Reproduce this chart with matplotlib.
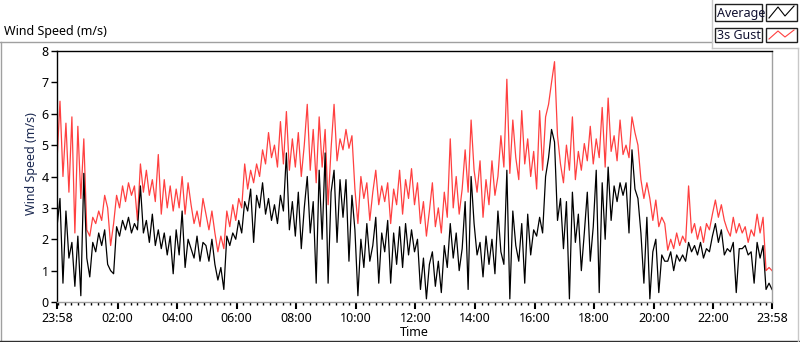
import numpy as np
import matplotlib
matplotlib.use("Agg")
import matplotlib.pyplot as plt
from matplotlib.lines import Line2D
from matplotlib.patches import Rectangle

plt.rcParams['font.family'] = ['Noto Sans', 'DejaVu Sans']

# one sample every 6 minutes, starting 23:58
step_min = 6

gust = [
    4.5, 6.4, 4.0, 5.7, 3.5, 5.9, 2.2, 5.6, 3.3, 5.2,
    2.3, 2.1, 2.7, 2.5, 2.9, 2.6, 3.4, 3.0, 1.8, 2.5,
    3.4, 3.0, 3.7, 3.2, 3.8, 3.4, 3.7, 2.6, 4.4, 3.5,
    4.2, 3.4, 3.9, 3.2, 4.7, 2.8, 3.9, 3.0, 3.7, 2.9,
    3.6, 3.0, 4.0, 2.8, 3.8, 3.1, 2.5, 2.9, 2.4, 3.3,
    2.8, 2.3, 2.9, 2.2, 1.6, 2.1, 1.7, 2.9, 2.4, 3.1,
    2.6, 3.3, 3.0, 4.4, 3.6, 4.2, 3.8, 4.4, 4.0, 4.85,
    4.4, 5.4, 4.6, 5.0, 4.3, 5.75, 4.4, 6.07, 4.2, 5.2,
    4.3, 5.4, 4.0, 5.0, 6.3, 4.2, 5.5, 3.8, 5.9, 4.3,
    5.5, 3.1, 4.9, 6.3, 4.5, 5.2, 4.85, 5.5, 4.9, 5.3,
    3.6, 2.5, 4.0, 3.3, 3.8, 2.6, 3.5, 4.2, 3.1, 3.7,
    3.2, 3.8, 2.5, 3.6, 3.1, 4.2, 2.8, 3.9, 3.3, 4.25,
    3.1, 3.8, 2.5, 3.2, 2.1, 2.9, 3.8, 2.4, 3.0, 2.2,
    3.5, 2.7, 5.2, 3.0, 4.0, 2.8, 3.6, 4.85, 3.5, 5.8,
    4.2, 3.5, 4.5, 2.7, 3.9, 3.1, 4.5, 3.4, 4.0, 5.3,
    4.3, 7.1, 4.1, 5.8, 4.6, 3.9, 6.1, 4.4, 5.2, 4.0,
    4.8, 3.6, 6.1, 4.2, 5.9, 6.3, 7.0, 7.66, 5.3, 4.4,
    3.8, 5.0, 4.2, 5.9, 3.9, 4.8, 4.2, 5.05, 4.5, 5.6,
    4.4, 5.2, 4.6, 6.2, 4.3, 6.5, 4.8, 5.3, 4.5, 5.8,
    4.7, 5.0, 4.6, 5.9, 5.4, 5.0, 3.9, 3.3, 3.8, 3.3,
    2.6, 3.25, 2.4, 2.7, 2.5, 1.65, 2.0, 1.7, 2.2, 1.8,
    2.1, 1.9, 3.7, 2.2, 2.5, 2.0, 2.4, 1.9, 2.5, 2.3,
    2.8, 3.25, 2.7, 3.1, 2.6, 2.3, 2.1, 2.7, 2.2, 2.5,
    2.2, 2.4, 1.9, 2.3, 2.1, 2.8, 2.2, 2.7, 1.0, 1.1,
    1.0,
]

average = [
    2.4, 3.3, 0.6, 2.9, 1.4, 1.9, 0.5, 2.1, 0.2, 4.1,
    1.4, 0.8, 1.9, 1.6, 2.2, 1.8, 2.3, 1.2, 1.0, 0.9,
    2.4, 2.1, 2.6, 2.3, 2.7, 2.2, 2.5, 2.3, 3.7, 2.2,
    2.6, 1.9, 2.8, 1.8, 2.3, 1.7, 2.2, 1.5, 2.1, 0.9,
    2.3, 1.5, 2.9, 1.1, 2.0, 1.7, 1.4, 2.1, 1.3, 1.9,
    1.8, 1.3, 2.0, 1.2, 0.7, 1.1, 0.4, 2.1, 1.8, 2.2,
    2.0, 2.6, 2.2, 3.2, 2.9, 3.6, 1.9, 3.4, 3.0, 3.8,
    2.8, 3.3, 2.6, 3.1, 2.5, 3.4, 2.9, 4.75, 2.3, 3.2,
    2.1, 3.5, 1.7, 3.0, 4.0, 2.2, 3.2, 0.6, 4.2, 2.0,
    4.75, 0.6, 3.5, 4.2, 1.9, 3.9, 2.7, 3.9, 1.3, 3.4,
    2.3, 0.2, 2.0, 1.1, 2.5, 1.3, 1.8, 2.7, 0.6, 2.2,
    1.6, 2.6, 0.6, 2.2, 1.2, 2.4, 1.1, 2.5, 1.5, 2.3,
    1.6, 2.0, 0.4, 1.4, 0.1, 1.2, 1.6, 0.5, 1.3, 0.3,
    1.8, 1.1, 2.5, 1.4, 2.2, 1.0, 1.7, 3.2, 0.4, 4.0,
    2.5, 1.5, 1.9, 0.8, 2.1, 1.2, 2.0, 0.9, 2.9, 1.6,
    1.2, 4.2, 0.1, 2.9, 1.8, 1.3, 2.5, 0.6, 2.8, 1.5,
    2.3, 2.1, 2.7, 2.2, 4.0, 4.6, 5.5, 5.1, 2.6, 3.3,
    1.7, 3.2, 0.1, 3.5, 1.9, 2.8, 1.0, 2.2, 3.5, 1.3,
    2.4, 4.2, 0.3, 3.8, 2.0, 4.3, 2.6, 3.7, 3.2, 3.8,
    3.4, 3.8, 2.2, 4.85, 3.6, 3.3, 2.2, 0.6, 2.7, 0.1,
    1.6, 2.0, 0.3, 1.5, 1.3, 1.3, 1.6, 1.0, 1.5, 1.3,
    1.5, 1.3, 1.9, 1.6, 1.8, 1.5, 1.9, 1.4, 1.7, 1.6,
    2.1, 2.5, 1.9, 2.3, 1.5, 1.7, 1.6, 1.9, 0.3, 1.7,
    1.7, 1.8, 1.5, 1.6, 0.6, 1.9, 1.4, 1.8, 0.4, 0.6,
    0.4,
]

tick_labels = ['23:58', '02:00', '04:00', '06:00', '08:00', '10:00', '12:00',
               '14:00', '16:00', '18:00', '20:00', '22:00', '23:58']

W, H = 800, 342


def fx(x):
    return x / W


def fy(y):
    return 1 - y / H


minutes = np.arange(len(gust)) * step_min

fig = plt.figure(figsize=(8, 3.42), dpi=100)
ax = fig.add_axes([fx(57), fy(302), fx(772) - fx(57), fy(51) - fy(302)])

ax.plot(minutes, gust, color='#ff4040', lw=0.9)
ax.plot(minutes, average, color='black', lw=0.9)

ax.set_xlim(0, 1440)
ax.set_ylim(0, 8)

# major ticks: both ends plus every two hours from 02:00
major = [0] + [122 + 120 * k for k in range(11)] + [1440]
ax.set_xticks(major)
ax.set_xticklabels(tick_labels)
minor = [122 + 120 * k / 9 for k in range(-9, 100)]
minor = [m for m in minor if 0 < m < 1440]
ax.set_xticks(minor, minor=True)
ax.set_yticks(range(0, 9))

ax.tick_params(axis='both', which='major', direction='out', length=4,
               width=1, labelsize=9, pad=2, colors='black')
ax.tick_params(axis='x', which='minor', direction='out', length=2.5, width=1)
ax.tick_params(axis='x', which='major', length=5, width=1.5)

ax.spines['left'].set_color('black')
ax.spines['top'].set_color('black')
ax.spines['right'].set_color('#a0a0a0')
ax.spines['bottom'].set_color('#a0a0a0')
for s in ax.spines.values():
    s.set_linewidth(1)

fig.text(fx(31), fy(164), 'Wind Speed (m/s)', rotation=90, ha='center',
         va='center', fontsize=9, color='#1a2850')
fig.text(fx(414), fy(333), 'Time', ha='center', va='center', fontsize=9)
fig.text(fx(4), fy(31), 'Wind Speed (m/s)', ha='left', va='center',
         fontsize=9)

# outer frame
frame_lines = [
    ((0, 42), (712, 42), '#a0a0a0'),
    ((0.5, 42), (0.5, 341), '#a0a0a0'),
    ((0, 341), (800, 341), '#303030'),
    ((798, 48), (798, 341), '#c8c8c8'),
    ((712, 0), (712, 48), '#c8c8c8'),
    ((712, 48), (798, 48), '#c8c8c8'),
]
for (x0, y0), (x1, y1), c in frame_lines:
    fig.add_artist(Line2D([fx(x0), fx(x1)], [fy(y0), fy(y1)], color=c, lw=1))

# legend boxes
legend_rows = [('Average', 'black', 4, 21), ('3s Gust', '#ff4040', 28, 42)]
for name, c, top, bot in legend_rows:
    fig.add_artist(Rectangle((fx(715), fy(bot)), fx(762) - fx(715),
                             fy(top) - fy(bot), facecolor='white',
                             edgecolor='#202020', lw=1))
    fig.text(fx(717), fy((top + bot) / 2 + 0.5), name, ha='left',
             va='center', fontsize=9, color='#101030')
    fig.add_artist(Rectangle((fx(766), fy(bot)), fx(797) - fx(766),
                             fy(top) - fy(bot), facecolor='white',
                             edgecolor='#202020', lw=1))
    zx = [769, 778, 785, 794]
    zy = [bot - 3, top + 3, bot - 5, top + 2]
    fig.add_artist(Line2D([fx(v) for v in zx], [fy(v) for v in zy],
                          color=c, lw=0.8))

fig.savefig('out.png', dpi=100)
